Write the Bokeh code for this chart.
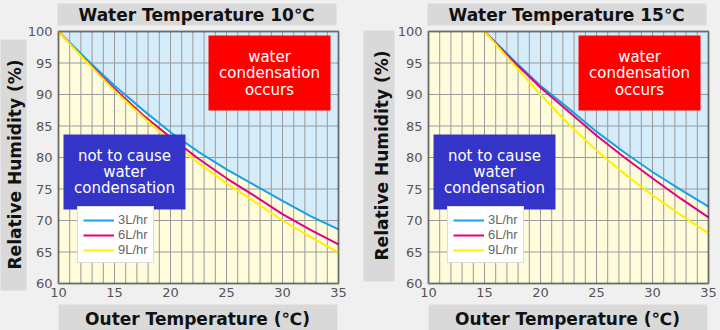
import math
from bokeh.plotting import figure
from bokeh.models import Range1d, FixedTicker, Legend, LegendItem, BoxAnnotation, Label
from bokeh.layouts import row
from bokeh.embed import file_html
from bokeh.resources import INLINE

# ---------------- data ----------------
outer_temp_w10 = [10, 12.5, 15, 17.5, 20, 22.5, 25, 27.5, 30, 32.5, 35]
rh_w10_3l = [100, 95.6, 91.4, 87.6, 84.0, 80.9, 78.1, 75.6, 73.1, 70.7, 68.6]
rh_w10_6l = [100, 95.3, 90.9, 86.8, 83.2, 79.8, 76.7, 73.9, 71.0, 68.5, 66.2]
rh_w10_9l = [100, 95.2, 90.6, 86.5, 82.6, 79.1, 75.9, 73.0, 70.0, 67.4, 64.9]

outer_temp_w15 = [15, 17.5, 20, 22.5, 25, 27.5, 30, 32.5, 35]
rh_w15_3l = [100, 95.6, 91.4, 87.8, 84.1, 80.8, 77.7, 74.9, 72.2]
rh_w15_6l = [100, 95.4, 91.1, 87.3, 83.5, 80.0, 76.7, 73.5, 70.5]
rh_w15_9l = [100, 95.0, 90.0, 85.3, 81.1, 77.4, 74.0, 70.9, 68.0]

series_labels = ["3L/hr", "6L/hr", "9L/hr"]
x_ticks = [10, 15, 20, 25, 30, 35]
x_minor_grid = list(range(10, 36))
y_ticks = [60, 65, 70, 75, 80, 85, 90, 95, 100]
panel_titles = ["Water Temperature 10℃", "Water Temperature 15℃"]
x_label = "Outer Temperature (℃)"
y_label = "Relative Humidity (%)"
red_text = ["water", "condensation", "occurs"]
blue_text = ["not to cause", "water", "condensation"]

# ---------------- style ----------------
X_LO, X_HI, Y_LO, Y_HI = 10, 35, 60, 100
W, H = 360, 330
BG = "#f0f0f0"
BOX_GRAY = "#d9d9d9"
SKY = "#d5ecfa"
CREAM = "#fffcdc"
GRID = "#9a9a9a"
LINE_COLORS = ["#16a2e6", "#e4007f", "#fff000"]
BOLD_FONT = "DejaVu Sans"
TXT_FONT = "DejaVu Sans"


def make_panel(title_text, temps, series, L, R, ybox, ytext, T=31, B=283):
    sx = (R - L) / (X_HI - X_LO)
    sy = (B - T) / (Y_HI - Y_LO)
    x0 = X_LO - L / sx
    x1 = X_HI + (W - R) / sx
    y1 = Y_HI + T / sy
    y0 = Y_LO - (H - B) / sy

    def cx(px):
        return x0 + px / sx

    def cy(py):
        return y1 - py / sy

    p = figure(width=W, height=H, x_range=Range1d(x0, x1), y_range=Range1d(y0, y1),
               output_backend="svg", toolbar_location=None, title=None, min_border=0,
               background_fill_color=BG, border_fill_color=BG, styles={"background-color": BG})
    p.outline_line_color = None
    p.grid.visible = False

    # plot area: sky everywhere, cream below the 3L/hr curve
    p.quad(left=[X_LO], right=[X_HI], bottom=[Y_LO], top=[Y_HI], fill_color=SKY, line_color=None)
    px = [X_LO, X_LO] + list(temps) + [X_HI]
    py = [Y_LO, Y_HI] + list(series[0]) + [Y_LO]
    p.patch(px, py, fill_color=CREAM, line_color=None)

    # grid lines
    p.segment(x0=x_minor_grid, y0=[Y_LO] * len(x_minor_grid), x1=x_minor_grid,
              y1=[Y_HI] * len(x_minor_grid), line_color=GRID, line_width=1)
    p.segment(x0=[X_LO] * len(y_ticks), y0=y_ticks, x1=[X_HI] * len(y_ticks), y1=y_ticks,
              line_color=GRID, line_width=1)

    # curves
    rends = []
    for rh, col in zip(series, LINE_COLORS):
        rends.append(p.line(temps, rh, line_color=col, line_width=2, line_join="round"))

    # axes placed on the plot area edges
    p.xaxis.fixed_location = Y_LO
    p.yaxis.fixed_location = X_LO
    for ax in (p.xaxis, p.yaxis):
        ax.axis_line_color = None
        ax.major_tick_line_color = None
        ax.minor_tick_line_color = None
        ax.major_tick_out = 0
        ax.major_tick_in = 0
        ax.major_label_text_font = TXT_FONT
        ax.major_label_text_font_size = "13px"
        ax.major_label_text_color = "#555555"
    p.xaxis.ticker = FixedTicker(ticks=x_ticks)
    p.yaxis.ticker = FixedTicker(ticks=y_ticks)
    p.xaxis.major_label_standoff = 4
    p.yaxis.major_label_standoff = 6

    # frame outline
    p.add_layout(BoxAnnotation(left=X_LO, right=X_HI, bottom=Y_LO, top=Y_HI, fill_alpha=0,
                               line_color="black", line_width=2.5))

    # red / blue boxes with text
    p.add_layout(BoxAnnotation(left=cx(L + 150), right=cx(L + 272), bottom=cy(110), top=cy(35),
                               fill_color="#ff0000", fill_alpha=1, line_color=None))
    p.add_layout(BoxAnnotation(left=cx(L + 5), right=cx(L + 127), bottom=cy(209), top=cy(134),
                               fill_color="#3434c8", fill_alpha=1, line_color=None))
    for txt, yy in zip(red_text, [56, 72.5, 89]):
        p.add_layout(Label(x=cx(L + 211), y=cy(yy), text=txt, text_align="center",
                           text_baseline="middle", text_color="white", text_font=TXT_FONT,
                           text_font_size="15px"))
    for txt, yy in zip(blue_text, [155, 171, 187]):
        p.add_layout(Label(x=cx(L + 66), y=cy(yy), text=txt, text_align="center",
                           text_baseline="middle", text_color="white", text_font=TXT_FONT,
                           text_font_size="15px"))

    legend = Legend(items=[LegendItem(label=l, renderers=[r]) for l, r in zip(series_labels, rends)],
                    location=(L + 19, H - 263), background_fill_color="white", background_fill_alpha=1,
                    border_line_color="#bbbbbb", label_text_font="Liberation Sans",
                    label_text_font_size="13px", label_text_color="#666666", glyph_width=31,
                    glyph_height=12, label_height=13, label_width=30, spacing=0, padding=5, margin=0,
                    label_standoff=4)
    p.add_layout(legend, "center")

    # gray label boxes
    def gray_box(l, t, r, b):
        p.add_layout(BoxAnnotation(left=cx(l), right=cx(r), bottom=cy(b), top=cy(t),
                                   fill_color=BOX_GRAY, fill_alpha=1, line_color=None))

    def bold_text(x, y, text, angle=0.0):
        p.add_layout(Label(x=cx(x), y=cy(y), text=text, angle=angle, text_align="center",
                           text_baseline="middle", text_font=BOLD_FONT, text_font_size="17px",
                           text_font_style="bold", text_color="#111111"))

    gray_box(L - 1, 3, R - 2, 25)
    bold_text(L + 138, 14.5, title_text)
    gray_box(L, 304, R - 1, 340)
    bold_text(L + 139, 318, x_label)
    gray_box(*ybox)
    bold_text(ytext[0], ytext[1], y_label, angle=math.pi / 2)
    return p


p1 = make_panel(panel_titles[0], outer_temp_w10, [rh_w10_3l, rh_w10_6l, rh_w10_9l], 58, 338,
                (-5, 39, 26, 290), (14, 164))
p2 = make_panel(panel_titles[1], outer_temp_w15, [rh_w15_3l, rh_w15_6l, rh_w15_9l], 68, 348,
                (3, 30, 34, 281), (21, 155))

layout = row(p1, p2, spacing=0, styles={"background-color": BG})
open("out.html", "w").write(file_html(layout, INLINE))
